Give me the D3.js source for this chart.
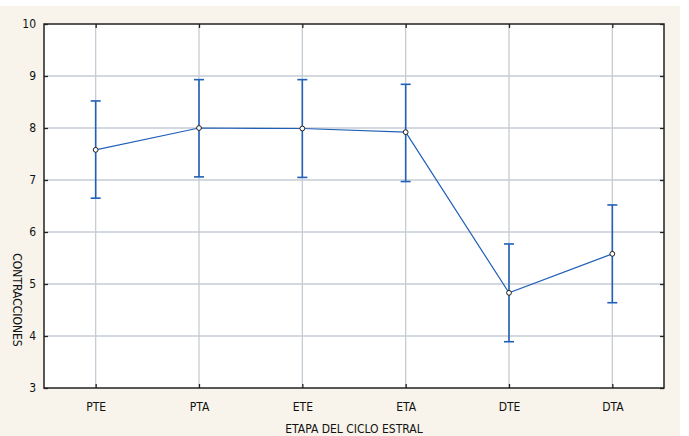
<!DOCTYPE html>
<html>
<head>
<meta charset="utf-8">
<script src="https://cdn.jsdelivr.net/npm/d3@7"></script>
<style>
  body { margin: 0; background: #ffffff; }
  text { font-family: "Liberation Sans Narrow", "DejaVu Sans Condensed", "Liberation Sans", sans-serif; fill: #111; }
</style>
</head>
<body>
<div id="chart"></div>
<script>
// data
var etapas = ["PTE", "PTA", "ETE", "ETA", "DTE", "DTA"]
var medias = [7.58, 8.00, 7.99, 7.92, 4.83, 5.58]
var superior = [8.52, 8.93, 8.93, 8.84, 5.77, 6.52]
var inferior = [6.65, 7.06, 7.05, 6.97, 3.89, 4.64]
var yTicks = [3, 4, 5, 6, 7, 8, 9, 10]

var W = 689, H = 436
var margin = { top: 24, right: 25, bottom: 48, left: 44 }
var width = W - margin.left - margin.right
var height = H - margin.top - margin.bottom

var svg = d3.select("#chart").append("svg")
  .attr("width", W)
  .attr("height", H)

// cream frame
svg.append("rect")
  .attr("x", 0).attr("y", 6)
  .attr("width", 680).attr("height", H - 6)
  .attr("fill", "#f8f4eb")

var g = svg.append("g")
  .attr("transform", "translate(" + margin.left + "," + margin.top + ")")

g.append("rect")
  .attr("width", width).attr("height", height)
  .attr("fill", "#ffffff")

var x = d3.scalePoint().domain(etapas).range([0, width]).padding(0.5)
var y = d3.scaleLinear().domain([3, 10]).range([height, 0])

// grid
g.selectAll(".hgrid").data(yTicks.slice(1, -1)).enter()
  .append("line")
  .attr("x1", 0).attr("x2", width)
  .attr("y1", d => y(d)).attr("y2", d => y(d))
  .attr("stroke", "#c5ccd3").attr("stroke-width", 1.3)
g.selectAll(".vgrid").data(etapas).enter()
  .append("line")
  .attr("x1", d => x(d)).attr("x2", d => x(d))
  .attr("y1", 0).attr("y2", height)
  .attr("stroke", "#c5ccd3").attr("stroke-width", 1.3)

// axes (ticks inside the frame)
var ax = g.append("g").attr("transform", "translate(0," + height + ")")
  .call(d3.axisBottom(x).tickSizeInner(-4).tickSizeOuter(0).tickPadding(14))
var axTop = g.append("g")
  .call(d3.axisTop(x).tickSizeInner(-4).tickSizeOuter(0).tickFormat(""))
var ay = g.append("g")
  .call(d3.axisLeft(y).tickValues(yTicks).tickFormat(d3.format("d"))
    .tickSizeInner(-4).tickSizeOuter(0).tickPadding(8))
var ayR = g.append("g").attr("transform", "translate(" + width + ",0)")
  .call(d3.axisRight(y).tickValues(yTicks).tickSizeInner(-4).tickSizeOuter(0).tickFormat(""))

;[ax, axTop, ay, ayR].forEach(function(a) {
  a.select(".domain").remove()
  a.selectAll(".tick line").attr("stroke", "#222").attr("stroke-width", 1.3)
  a.selectAll("text").style("font-size", "12px").attr("fill", "#111")
})

g.append("rect")
  .attr("width", width).attr("height", height)
  .attr("fill", "none").attr("stroke", "#222").attr("stroke-width", 1.5)

// error bars
var blue = "#2160b8"
var rows = etapas.map(function(e, i) {
  return { etapa: e, m: medias[i], hi: superior[i], lo: inferior[i] }
})
g.selectAll(".eb").data(rows).enter()
  .append("line")
  .attr("x1", d => x(d.etapa)).attr("x2", d => x(d.etapa))
  .attr("y1", d => y(d.hi)).attr("y2", d => y(d.lo))
  .attr("stroke", blue).attr("stroke-width", 1.6)
g.selectAll(".capHi").data(rows).enter()
  .append("line")
  .attr("x1", d => x(d.etapa) - 5).attr("x2", d => x(d.etapa) + 5)
  .attr("y1", d => y(d.hi)).attr("y2", d => y(d.hi))
  .attr("stroke", blue).attr("stroke-width", 1.6)
g.selectAll(".capLo").data(rows).enter()
  .append("line")
  .attr("x1", d => x(d.etapa) - 5).attr("x2", d => x(d.etapa) + 5)
  .attr("y1", d => y(d.lo)).attr("y2", d => y(d.lo))
  .attr("stroke", blue).attr("stroke-width", 1.6)

// mean line
var line = d3.line().x(d => x(d.etapa)).y(d => y(d.m))
g.append("path")
  .datum(rows)
  .attr("d", line)
  .attr("fill", "none")
  .attr("stroke", blue).attr("stroke-width", 1.2)

g.selectAll(".pt").data(rows).enter()
  .append("circle")
  .attr("cx", d => x(d.etapa)).attr("cy", d => y(d.m))
  .attr("r", 2.4)
  .attr("fill", "#fff").attr("stroke", "#222").attr("stroke-width", 1)

// axis titles
svg.append("text")
  .attr("x", margin.left + width / 2).attr("y", 433)
  .attr("text-anchor", "middle")
  .style("font-size", "12px")
  .text("ETAPA DEL CICLO ESTRAL")

svg.append("text")
  .attr("transform", "translate(13,300) rotate(90)")
  .attr("text-anchor", "middle")
  .style("font-size", "12px")
  .text("CONTRACCIONES")
</script>
</body>
</html>
